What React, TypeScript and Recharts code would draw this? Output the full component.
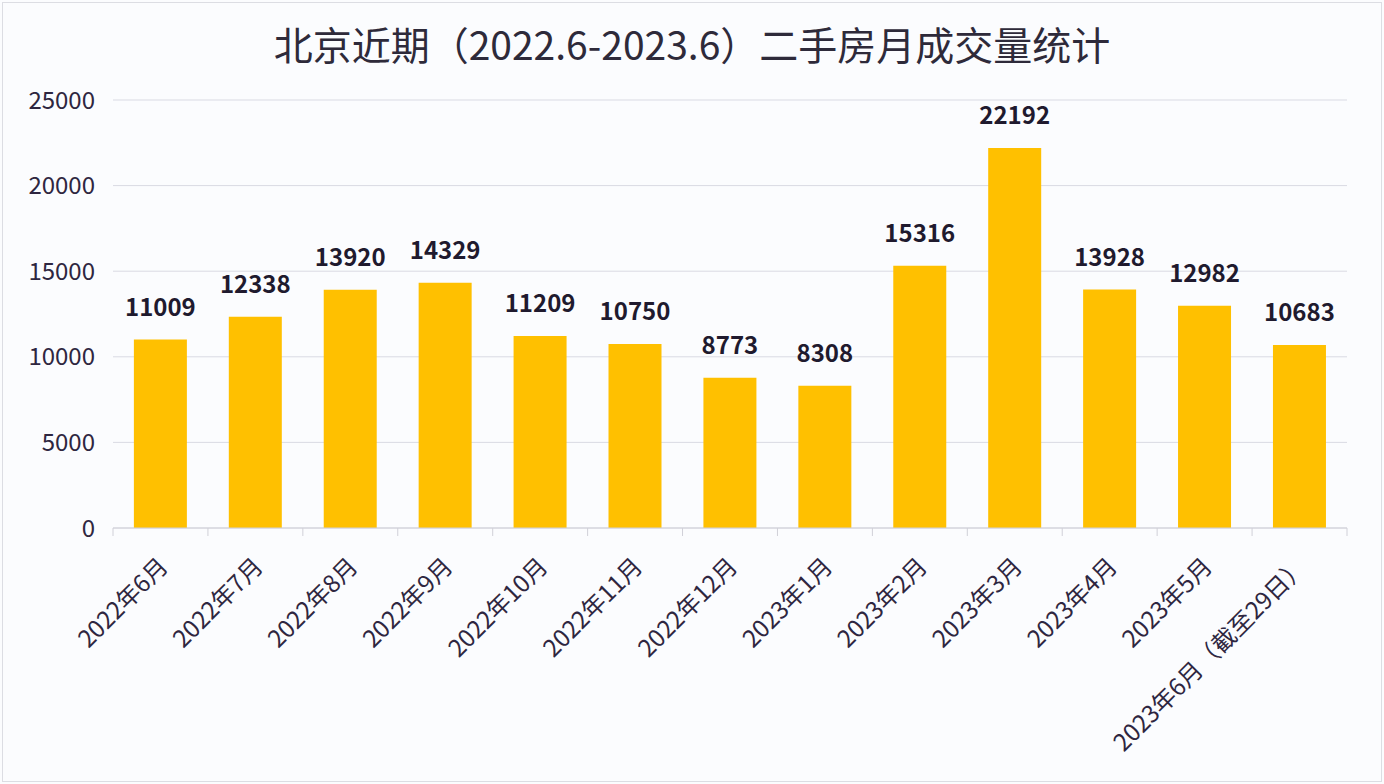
import React from 'react';
import { BarChart, Bar, XAxis, YAxis, CartesianGrid, LabelList } from 'recharts';

const categories = ['2022年6月', '2022年7月', '2022年8月', '2022年9月', '2022年10月', '2022年11月', '2022年12月', '2023年1月', '2023年2月', '2023年3月', '2023年4月', '2023年5月', '2023年6月（截至29日）'];
const volumes = [11009, 12338, 13920, 14329, 11209, 10750, 8773, 8308, 15316, 22192, 13928, 12982, 10683];
const yTicks = [0, 5000, 10000, 15000, 20000, 25000];

const data = categories.map((name, i) => ({ name, value: volumes[i] }));

const FONT = '"Noto Sans CJK SC", "Noto Sans", sans-serif';
const W = 1384;
const H = 784;
const LEFT = 113;
const RIGHT = 37;
const STEP = (W - LEFT - RIGHT) / categories.length;

const XTick = (props: any) => {
  const { x, y, payload, index } = props;
  const top = y - 8;
  const tx = x + 9;
  const ty = top + 40;
  return (
    <g>
      <line x1={x - STEP / 2} y1={top} x2={x - STEP / 2} y2={top + 8} stroke="#d0d0d8" />
      {index === categories.length - 1 && (
        <line x1={x + STEP / 2} y1={top} x2={x + STEP / 2} y2={top + 8} stroke="#d0d0d8" />
      )}
      <text
        x={tx}
        y={ty}
        textAnchor="end"
        fontSize={24}
        fill="#2e2640"
        fontFamily={FONT}
        transform={`rotate(-45 ${tx} ${ty})`}
      >
        {payload.value}
      </text>
    </g>
  );
};

export default function App() {
  return (
    <div style={{ position: 'absolute', left: 0, top: 0, width: W, height: H, background: '#fbfcfe' }}>
      <div style={{ position: 'absolute', left: 2, top: 2, width: W - 6, height: H - 6, border: '1px solid #dcdde3' }} />
      <div
        style={{
          position: 'absolute',
          left: 0,
          top: 16,
          width: W,
          textAlign: 'center',
          fontFamily: FONT,
          fontSize: 39,
          color: '#2e2a3a',
          lineHeight: '54px',
        }}
      >
        北京近期（2022.6-2023.6）二手房月成交量统计
      </div>
      <div style={{ position: 'absolute', left: 0, top: 0 }}>
        <BarChart
          width={W}
          height={H}
          data={data}
          margin={{ top: 100, right: RIGHT, left: 0, bottom: 0 }}
          barCategoryGap="22%"
        >
          <CartesianGrid vertical={false} stroke="#d9dae3" />
          <XAxis
            dataKey="name"
            interval={0}
            height={256}
            tickLine={false}
            axisLine={{ stroke: '#d0d0d8' }}
            tick={<XTick />}
          />
          <YAxis
            width={LEFT}
            domain={[0, 25000]}
            ticks={yTicks}
            tickLine={false}
            axisLine={false}
            tickMargin={12}
            tick={{ fontSize: 24, fill: '#2e2640', fontFamily: FONT }}
          />
          <Bar dataKey="value" fill="#FFC000" isAnimationActive={false}>
            <LabelList
              dataKey="value"
              position="top"
              offset={24}
              style={{ fontSize: 24, fontWeight: 'bold', fill: '#1f1a2e', fontFamily: FONT }}
            />
          </Bar>
        </BarChart>
      </div>
    </div>
  );
}
